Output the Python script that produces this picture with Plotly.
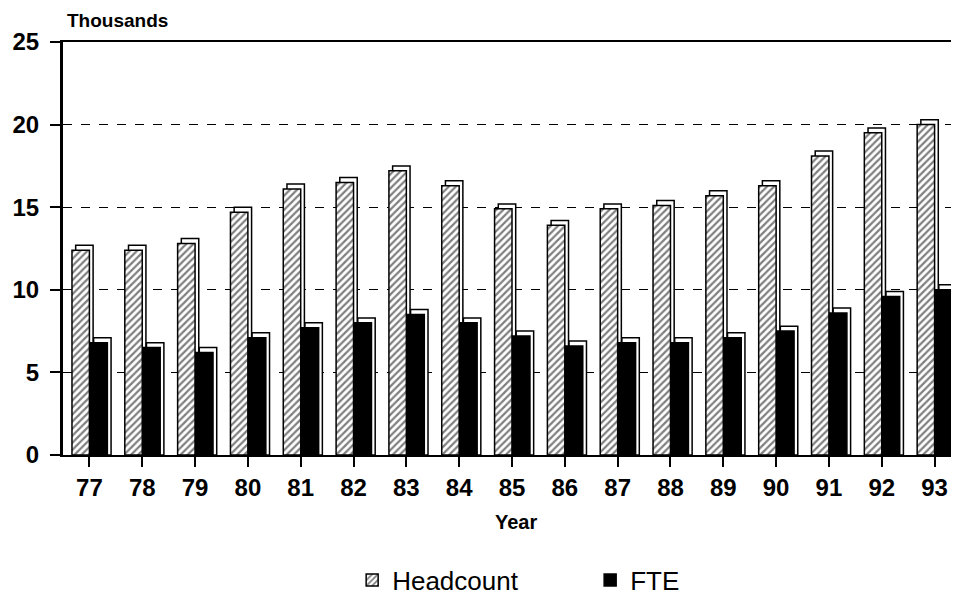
import plotly.graph_objects as go

years = ["77", "78", "79", "80", "81", "82", "83", "84", "85", "86", "87", "88", "89", "90", "91", "92", "93"]
headcount = [12.4, 12.4, 12.8, 14.7, 16.1, 16.5, 17.2, 16.3, 14.9, 13.9, 14.9, 15.1, 15.7, 16.3, 18.1, 19.5, 20.0]
fte = [6.8, 6.5, 6.2, 7.1, 7.7, 8.0, 8.5, 8.0, 7.2, 6.6, 6.8, 6.8, 7.1, 7.5, 8.6, 9.6, 10.0]

DEPTH = 0.3
W = 0.33
font_family = "Liberation Sans, Arial, sans-serif"

fig = go.Figure()

# 3D depth (back faces)
for vals, off in ((headcount, -0.33), (fte, 0.01)):
    fig.add_trace(go.Bar(
        x=years, y=[v + DEPTH for v in vals], width=W, offset=off + 0.07,
        marker=dict(color="white", line=dict(color="black", width=1.5)),
        showlegend=False, hoverinfo="skip"))

fig.add_trace(go.Bar(
    x=years, y=headcount, name="Headcount", width=W, offset=-0.33,
    marker=dict(color="white", line=dict(color="black", width=1.5),
                pattern=dict(shape="/", fgcolor="black", bgcolor="white", size=5, solidity=0.45))))
fig.add_trace(go.Bar(
    x=years, y=fte, name="FTE", width=W, offset=0.01,
    marker=dict(color="black", line=dict(color="black", width=1.5))))

fig.update_layout(
    width=959, height=598,
    barmode="overlay",
    plot_bgcolor="white", paper_bgcolor="white",
    margin=dict(l=55, r=6, t=34, b=151, autoexpand=False),
    font=dict(family=font_family, color="black", size=22),
    legend=dict(orientation="h", x=0.322, xanchor="left", y=-0.303, yanchor="middle",
                font=dict(size=26), entrywidth=193, traceorder="normal"),
    annotations=[
        dict(text="<b>Thousands</b>", xref="paper", yref="paper", x=0.002, y=1.053,
             xanchor="left", yanchor="middle", showarrow=False, font=dict(size=19)),
        dict(text="<b>Year</b>", xref="paper", yref="paper", x=0.505, y=-0.162,
             xanchor="center", yanchor="middle", showarrow=False, font=dict(size=20)),
    ],
)

fig.update_xaxes(
    showline=True, linecolor="black", linewidth=2, mirror=True,
    ticks="outside", ticklen=10, tickcolor="black", tickwidth=1.5,
    showgrid=False, automargin=False,
    tickfont=dict(size=24, weight="bold"),
)
fig.update_yaxes(
    range=[0, 25], tickvals=[0, 5, 10, 15, 20, 25],
    showline=True, linecolor="black", linewidth=3,
    ticks="outside", ticklen=10, tickcolor="black", tickwidth=1.5,
    ticklabelstandoff=6,
    showgrid=True, gridcolor="black", griddash="dash", gridwidth=1,
    zeroline=False, automargin=False, tickfont=dict(size=24, weight="bold"),
)

fig.write_html("out.html")
